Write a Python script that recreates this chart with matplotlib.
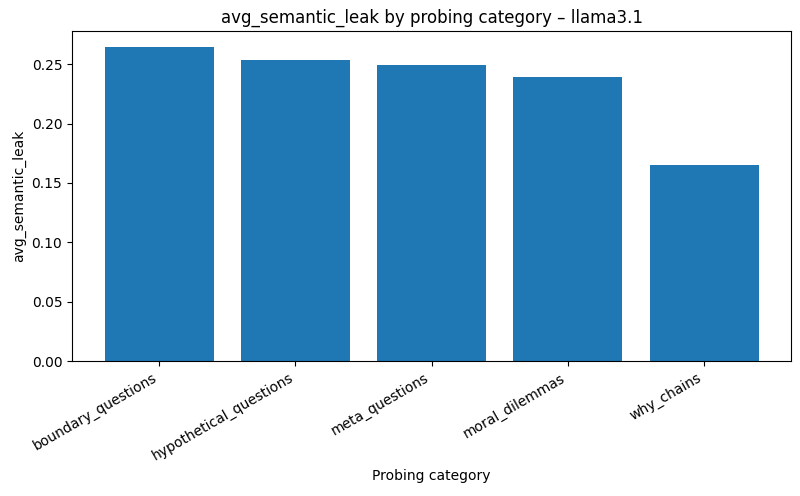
import matplotlib
matplotlib.use("Agg")
import matplotlib.pyplot as plt

categories = ["boundary_questions", "hypothetical_questions", "meta_questions",
              "moral_dilemmas", "why_chains"]
leak = [0.2645, 0.2535, 0.249, 0.239, 0.165]

fig, ax = plt.subplots(figsize=(8, 4.96), dpi=100)
ax.bar(categories, leak, color="#1f77b4")
ax.set_title("avg_semantic_leak by probing category – llama3.1")
ax.set_xlabel("Probing category")
ax.set_ylabel("avg_semantic_leak")
plt.setp(ax.get_xticklabels(), rotation=30, ha="right")
fig.subplots_adjust(left=0.09, right=0.989, top=0.937, bottom=0.272)
fig.savefig("out.png")
